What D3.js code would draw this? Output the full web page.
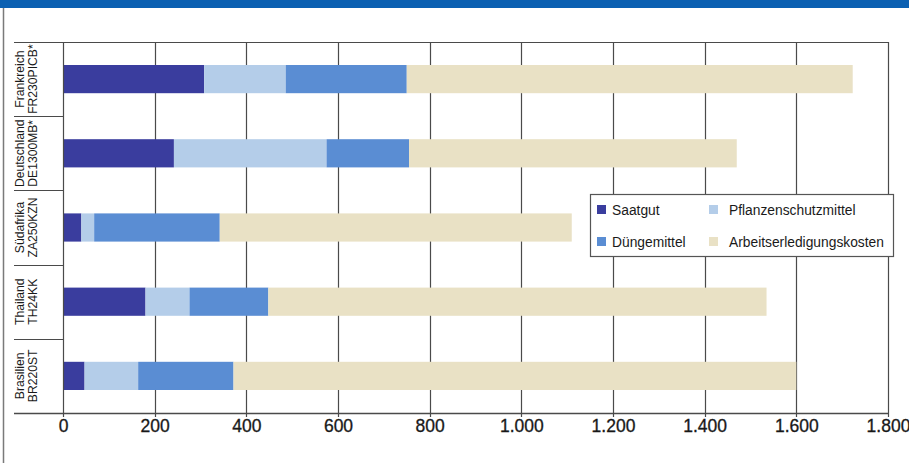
<!DOCTYPE html>
<html><head><meta charset="utf-8">
<script src="https://cdn.jsdelivr.net/npm/d3@7"></script>
<style>
body{margin:0;background:#fff}
svg{display:block}
text{font-family:"Liberation Sans","Arial",sans-serif;fill:#1a1a1a}
</style>
</head><body>
<svg id="chart" width="909" height="463"></svg>
<script>
// Kostenstruktur je Betrieb (Euro je Hektar)
const countries = ["Frankreich", "Deutschland", "Südafrika", "Thailand", "Brasilien"];
const farmCodes = ["FR230PICB*", "DE1300MB*", "ZA250KZN", "TH24KK", "BR220ST"];
const seriesNames = ["Saatgut", "Pflanzenschutzmittel", "Düngemittel", "Arbeitserledigungskosten"];
const saatgut        = [308, 242, 40, 180, 47];
const pflanzenschutz = [178, 333, 28, 96, 117];
const duengemittel   = [264, 180, 274, 172, 208];
const arbeitskosten  = [973, 715, 768, 1087, 1228];
const tickValues = [0, 200, 400, 600, 800, 1000, 1200, 1400, 1600, 1800];
const seriesColors = ["#3a3d9e", "#b4cde9", "#5a8dd3", "#e9e1c5"];

const rows = countries.map((c, i) => ({
  country: c,
  "Saatgut": saatgut[i],
  "Pflanzenschutzmittel": pflanzenschutz[i],
  "Düngemittel": duengemittel[i],
  "Arbeitserledigungskosten": arbeitskosten[i]
}));

const svg = d3.select("#chart");
const plotLeft = 63, plotRight = 888, plotTop = 42, plotBottom = 413, labelLeft = 14;

const x = d3.scaleLinear().domain([0, 1800]).range([plotLeft, plotRight]);
const y = d3.scaleBand().domain(countries).range([plotTop, plotBottom]);
const color = d3.scaleOrdinal().domain(seriesNames).range(seriesColors);
const barH = y.bandwidth() * 0.38;

const de = d3.formatLocale({decimal: ",", thousands: ".", grouping: [3], currency: ["", " €"]});
const fmt = de.format(",d");

// header strip and frame
svg.append("rect").attr("x", 0).attr("y", 0).attr("width", 909).attr("height", 8).attr("fill", "#0b60b2");
const lineColor = "#4a4a4a";
svg.append("line").attr("x1", 3.5).attr("x2", 3.5).attr("y1", 8).attr("y2", 463)
  .attr("stroke", "#7a7a7a").attr("stroke-width", 1.5);

// vertical grid
svg.append("g").selectAll("line").data(tickValues.slice(1, -1)).join("line")
  .attr("x1", d => Math.round(x(d)) + 0.5).attr("x2", d => Math.round(x(d)) + 0.5)
  .attr("y1", plotTop).attr("y2", plotBottom + 4)
  .attr("stroke", lineColor).attr("stroke-width", 1.2);

// stacked bars
const stacked = d3.stack().keys(seriesNames)(rows);
svg.append("g").selectAll("g").data(stacked).join("g")
  .attr("fill", d => color(d.key))
  .selectAll("rect").data(d => d).join("rect")
  .attr("x", d => x(d[0]))
  .attr("width", d => x(d[1]) - x(d[0]))
  .attr("y", d => y(d.data.country) + (y.bandwidth() - barH) / 2)
  .attr("height", barH);

// plot border
svg.append("line").attr("x1", labelLeft).attr("x2", plotRight).attr("y1", plotTop + 0.5).attr("y2", plotTop + 0.5)
  .attr("stroke", lineColor).attr("stroke-width", 1.2);
svg.append("line").attr("x1", plotRight + 0.5).attr("x2", plotRight + 0.5).attr("y1", plotTop).attr("y2", plotBottom + 4)
  .attr("stroke", lineColor).attr("stroke-width", 1.2);
svg.append("line").attr("x1", plotLeft + 0.5).attr("x2", plotLeft + 0.5).attr("y1", plotTop).attr("y2", plotBottom + 4)
  .attr("stroke", lineColor).attr("stroke-width", 1.2);

// category separators
svg.append("g").selectAll("line").data(countries.slice(1)).join("line")
  .attr("x1", labelLeft).attr("x2", plotLeft)
  .attr("y1", d => Math.round(y(d)) + 0.5).attr("y2", d => Math.round(y(d)) + 0.5)
  .attr("stroke", lineColor).attr("stroke-width", 1.2);

// x axis
const xAxis = d3.axisBottom(x).tickValues(tickValues).tickFormat(fmt).tickSize(0).tickPadding(7);
const gx = svg.append("g").attr("transform", `translate(0,${plotBottom})`).call(xAxis);
gx.select(".domain").remove();
gx.attr("font-family", null).attr("font-size", null);
gx.selectAll("text").attr("font-size", 17.5).attr("fill", "#151515")
  .attr("stroke", "#151515").attr("stroke-width", 0.3);
svg.append("line").attr("x1", labelLeft).attr("x2", plotRight).attr("y1", plotBottom + 0.5).attr("y2", plotBottom + 0.5)
  .attr("stroke", lineColor).attr("stroke-width", 1.4);

// category labels (rotated, two lines, set slightly condensed)
const lab = svg.append("g").selectAll("g").data(countries).join("g")
  .attr("transform", d => `translate(0,${y(d) + y.bandwidth() / 2}) rotate(-90) scale(0.9,1)`);
lab.append("text").attr("x", 0).attr("y", 24).attr("text-anchor", "middle")
  .attr("font-size", 13.5).text(d => d);
lab.append("text").attr("x", 0).attr("y", 37).attr("text-anchor", "middle")
  .attr("font-size", 13.5).text((d, i) => farmCodes[i]);

// legend
const lg = svg.append("g");
lg.append("rect").attr("x", 590.5).attr("y", 194.5).attr("width", 303).attr("height", 62)
  .attr("fill", "#fff").attr("stroke", "#555").attr("stroke-width", 1.2);
const legendPos = [[597, 210], [709, 210], [597, 242], [709, 242]];
const items = lg.selectAll("g").data(seriesNames).join("g")
  .attr("transform", (d, i) => `translate(${legendPos[i][0]},${legendPos[i][1]})`);
items.append("rect").attr("x", 0).attr("y", -5).attr("width", 9).attr("height", 9).attr("fill", d => color(d));
items.append("text").attr("x", (d, i) => i % 2 === 0 ? 15 : 20).attr("y", 5).attr("font-size", 13.8).text(d => d);
</script>
</body></html>
